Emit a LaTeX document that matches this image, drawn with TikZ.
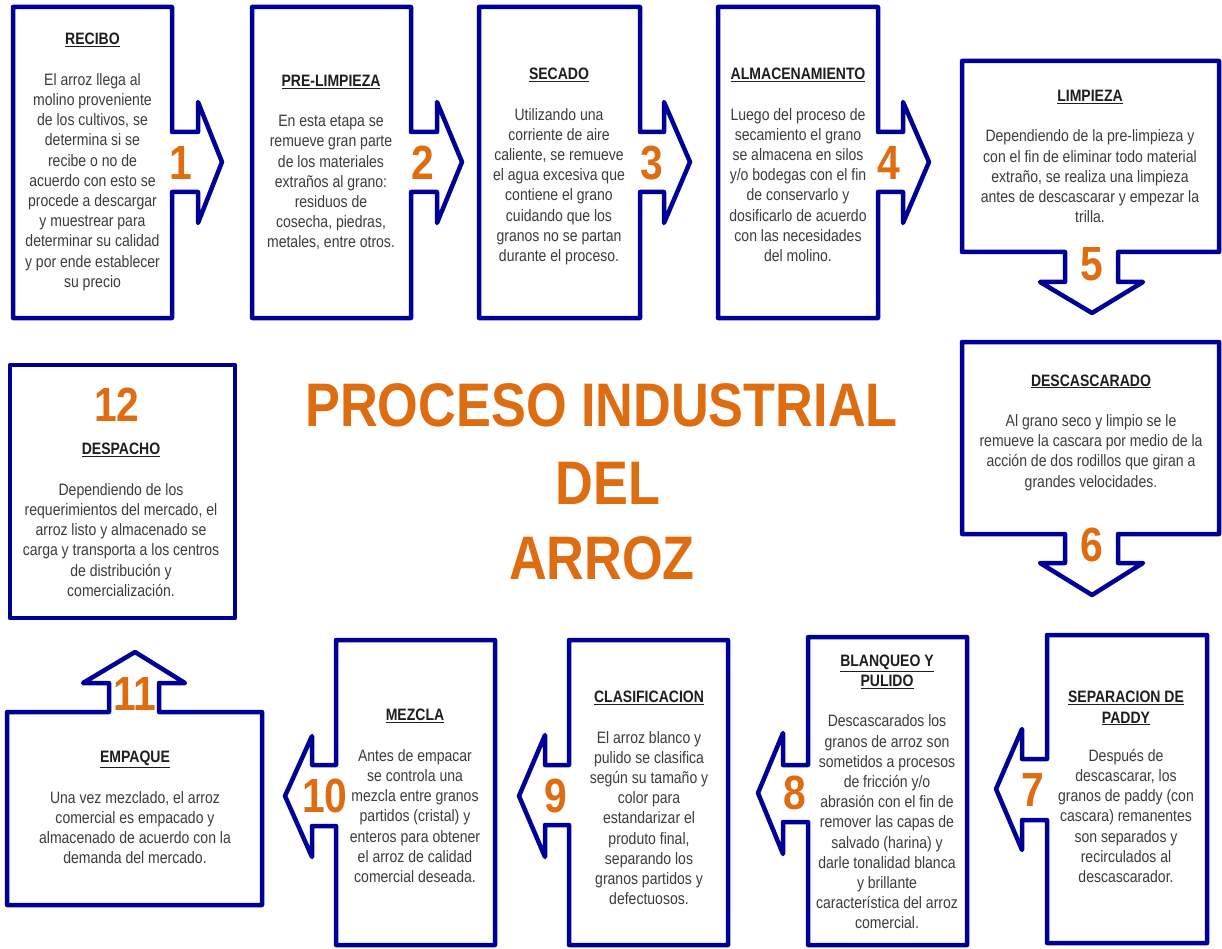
\documentclass[tikz,border=0pt]{standalone}
\usepackage{fontspec}
\setmainfont{Liberation Sans}[FakeStretch=0.85]
\definecolor{navy}{RGB}{0,0,150}
\definecolor{orangec}{RGB}{222,108,16}
\definecolor{bodyc}{RGB}{60,60,60}
\definecolor{headc}{RGB}{30,30,30}
\newcommand{\stephead}[1]{\textcolor{headc}{\underline{\textbf{#1}}}}
\tikzset{
  callout/.style={draw=navy, line width=4.5pt, line join=round, fill=white},
  txt/.style={align=center, text=bodyc, font=\fontsize{16.5}{20.2}\selectfont, inner sep=0pt},
  num/.style={text=orangec, font=\bfseries\fontsize{48}{48}\selectfont, inner sep=0pt},
  title/.style={text=orangec, font=\bfseries\fontsize{61.5}{61.5}\selectfont, inner sep=0pt},
}
\begin{document}
\begin{tikzpicture}[x=1pt,y=-1pt]
\useasboundingbox (0,0) rectangle (1222,949);
% shapes
\draw[callout] (13,7) -- (172,7) -- (172,132) -- (198,132) -- (198,102) -- (222,162) -- (198,223) -- (198,192) -- (172,192) -- (172,318) -- (13,318) -- cycle;
\draw[callout] (252,7) -- (411,7) -- (411,132) -- (437,132) -- (437,102) -- (462,162) -- (437,223) -- (437,192) -- (411,192) -- (411,318) -- (252,318) -- cycle;
\draw[callout] (479,7) -- (640,7) -- (640,132) -- (664,132) -- (664,102) -- (690,162) -- (664,223) -- (664,192) -- (640,192) -- (640,318) -- (479,318) -- cycle;
\draw[callout] (718,7) -- (878,7) -- (878,132) -- (903,132) -- (903,102) -- (929,162) -- (903,223) -- (903,192) -- (878,192) -- (878,318) -- (718,318) -- cycle;
\draw[callout] (962,61) -- (1219,61) -- (1219,252) -- (1118,252) -- (1118,282) -- (1143,282) -- (1092,313) -- (1040,282) -- (1065,282) -- (1065,252) -- (962,252) -- cycle;
\draw[callout] (962,342) -- (1219,342) -- (1219,534) -- (1118,534) -- (1118,563) -- (1143,563) -- (1092,595) -- (1040,563) -- (1065,563) -- (1065,534) -- (962,534) -- cycle;
\draw[callout] (1047,635) -- (1207,635) -- (1207,943) -- (1047,943) -- (1047,820) -- (1022,820) -- (1022,850) -- (996,789) -- (1022,729) -- (1022,759) -- (1047,759) -- cycle;
\draw[callout] (808,637) -- (967,637) -- (967,945) -- (808,945) -- (808,822) -- (783,822) -- (783,854) -- (758,793) -- (783,733) -- (783,765) -- (808,765) -- cycle;
\draw[callout] (569,640) -- (728,640) -- (728,945) -- (569,945) -- (569,825) -- (545,825) -- (545,857) -- (519,796) -- (545,735) -- (545,765) -- (569,765) -- cycle;
\draw[callout] (336,640) -- (495,640) -- (495,945) -- (336,945) -- (336,826) -- (312,826) -- (312,857) -- (285,796) -- (312,736) -- (312,765) -- (336,765) -- cycle;
\draw[callout] (7,712) -- (109,712) -- (109,683) -- (83,683) -- (135,652) -- (185,683) -- (159,683) -- (159,712) -- (262,712) -- (262,905) -- (7,905) -- cycle;
\draw[callout] (10,365) rectangle (235,618);
% title
\node[title] (t1) at (601.5,405.5) {PROCESO INDUSTRIAL};
\node[title] (t2) at (608,483) {DEL};
\node[title] (t3) at (602,558) {ARROZ};
% texts
\node[txt] (s1) at (92.5,162) {\stephead{RECIBO}\\[20.2pt]El arroz llega al\\molino proveniente\\de los cultivos, se\\determina si se\\recibe o no de\\acuerdo con esto se\\procede a descargar\\y muestrear para\\determinar su calidad\\y por ende establecer\\su precio};
\node[txt] (s2) at (331,162.5) {\stephead{PRE-LIMPIEZA}\\[20.2pt]En esta etapa se\\remueve gran parte\\de los materiales\\extraños al grano:\\residuos de\\cosecha, piedras,\\metales, entre otros.};
\node[txt] (s3) at (559,166.5) {\stephead{SECADO}\\[20.2pt]Utilizando una\\corriente de aire\\caliente, se remueve\\el agua excesiva que\\contiene el grano\\cuidando que los\\granos no se partan\\durante el proceso.};
\node[txt] (s4) at (798,165) {\stephead{ALMACENAMIENTO}\\[20.2pt]Luego del proceso de\\secamiento el grano\\se almacena en silos\\y/o bodegas con el fin\\de conservarlo y\\dosificarlo de acuerdo\\con las necesidades\\del molino.};
\node[txt] (s5) at (1090,156.5) {\stephead{LIMPIEZA}\\[20.2pt]Dependiendo de la pre-limpieza y\\con el fin de eliminar todo material\\extraño, se realiza una limpieza\\antes de descascarar y empezar la\\trilla.};
\node[txt] (s6) at (1091,432.5) {\stephead{DESCASCARADO}\\[20.2pt]Al grano seco y limpio se le\\remueve la cascara por medio de la\\acción de dos rodillos que giran a\\grandes velocidades.};
\node[txt] (s7) at (1126,787) {\stephead{SEPARACION DE}\\\stephead{PADDY}\\[18pt]Después de\\descascarar, los\\granos de paddy (con\\cascara) remanentes\\son separados y\\recirculados al\\descascarador.};
\node[txt] (s8) at (887,792) {\stephead{BLANQUEO Y}\\\stephead{PULIDO}\\[20.2pt]Descascarados los\\granos de arroz son\\sometidos a procesos\\de fricción y/o\\abrasión con el fin de\\remover las capas de\\salvado (harina) y\\darle tonalidad blanca\\y brillante\\característica del arroz\\comercial.};
\node[txt] (s9) at (649,798) {\stephead{CLASIFICACION}\\[20.2pt]El arroz blanco y\\pulido se clasifica\\según su tamaño y\\color para\\estandarizar el\\produto final,\\separando los\\granos partidos y\\defectuosos.};
\node[txt] (s10) at (415,796) {\stephead{MEZCLA}\\[20.2pt]Antes de empacar\\se controla una\\mezcla entre granos\\partidos (cristal) y\\enteros para obtener\\el arroz de calidad\\comercial deseada.};
\node[txt] (s11) at (135,807.5) {\stephead{EMPAQUE}\\[20.2pt]Una vez mezclado, el arroz\\comercial es empacado y\\almacenado de acuerdo con la\\demanda del mercado.};
\node[txt] (s12) at (121,520) {\stephead{DESPACHO}\\[20.2pt]Dependiendo de los\\requerimientos del mercado, el\\arroz listo y almacenado se\\carga y transporta a los centros\\de distribución y\\comercialización.};
% numbers
\node[num] (n1) at (181,163) {1};
\node[num] (n2) at (423,163) {2};
\node[num] (n3) at (652,163) {3};
\node[num] (n4) at (889,163) {4};
\node[num] (n5) at (1092,264) {5};
\node[num] (n6) at (1092,545) {6};
\node[num] (n7) at (1033,790) {7};
\node[num] (n8) at (795,793) {8};
\node[num] (n9) at (556,796) {9};
\node[num] (n10) at (325,796) {10};
\node[num] (n11) at (135,694) {11};
\node[num] (n12) at (117,405) {12};
\end{tikzpicture}
\end{document}
